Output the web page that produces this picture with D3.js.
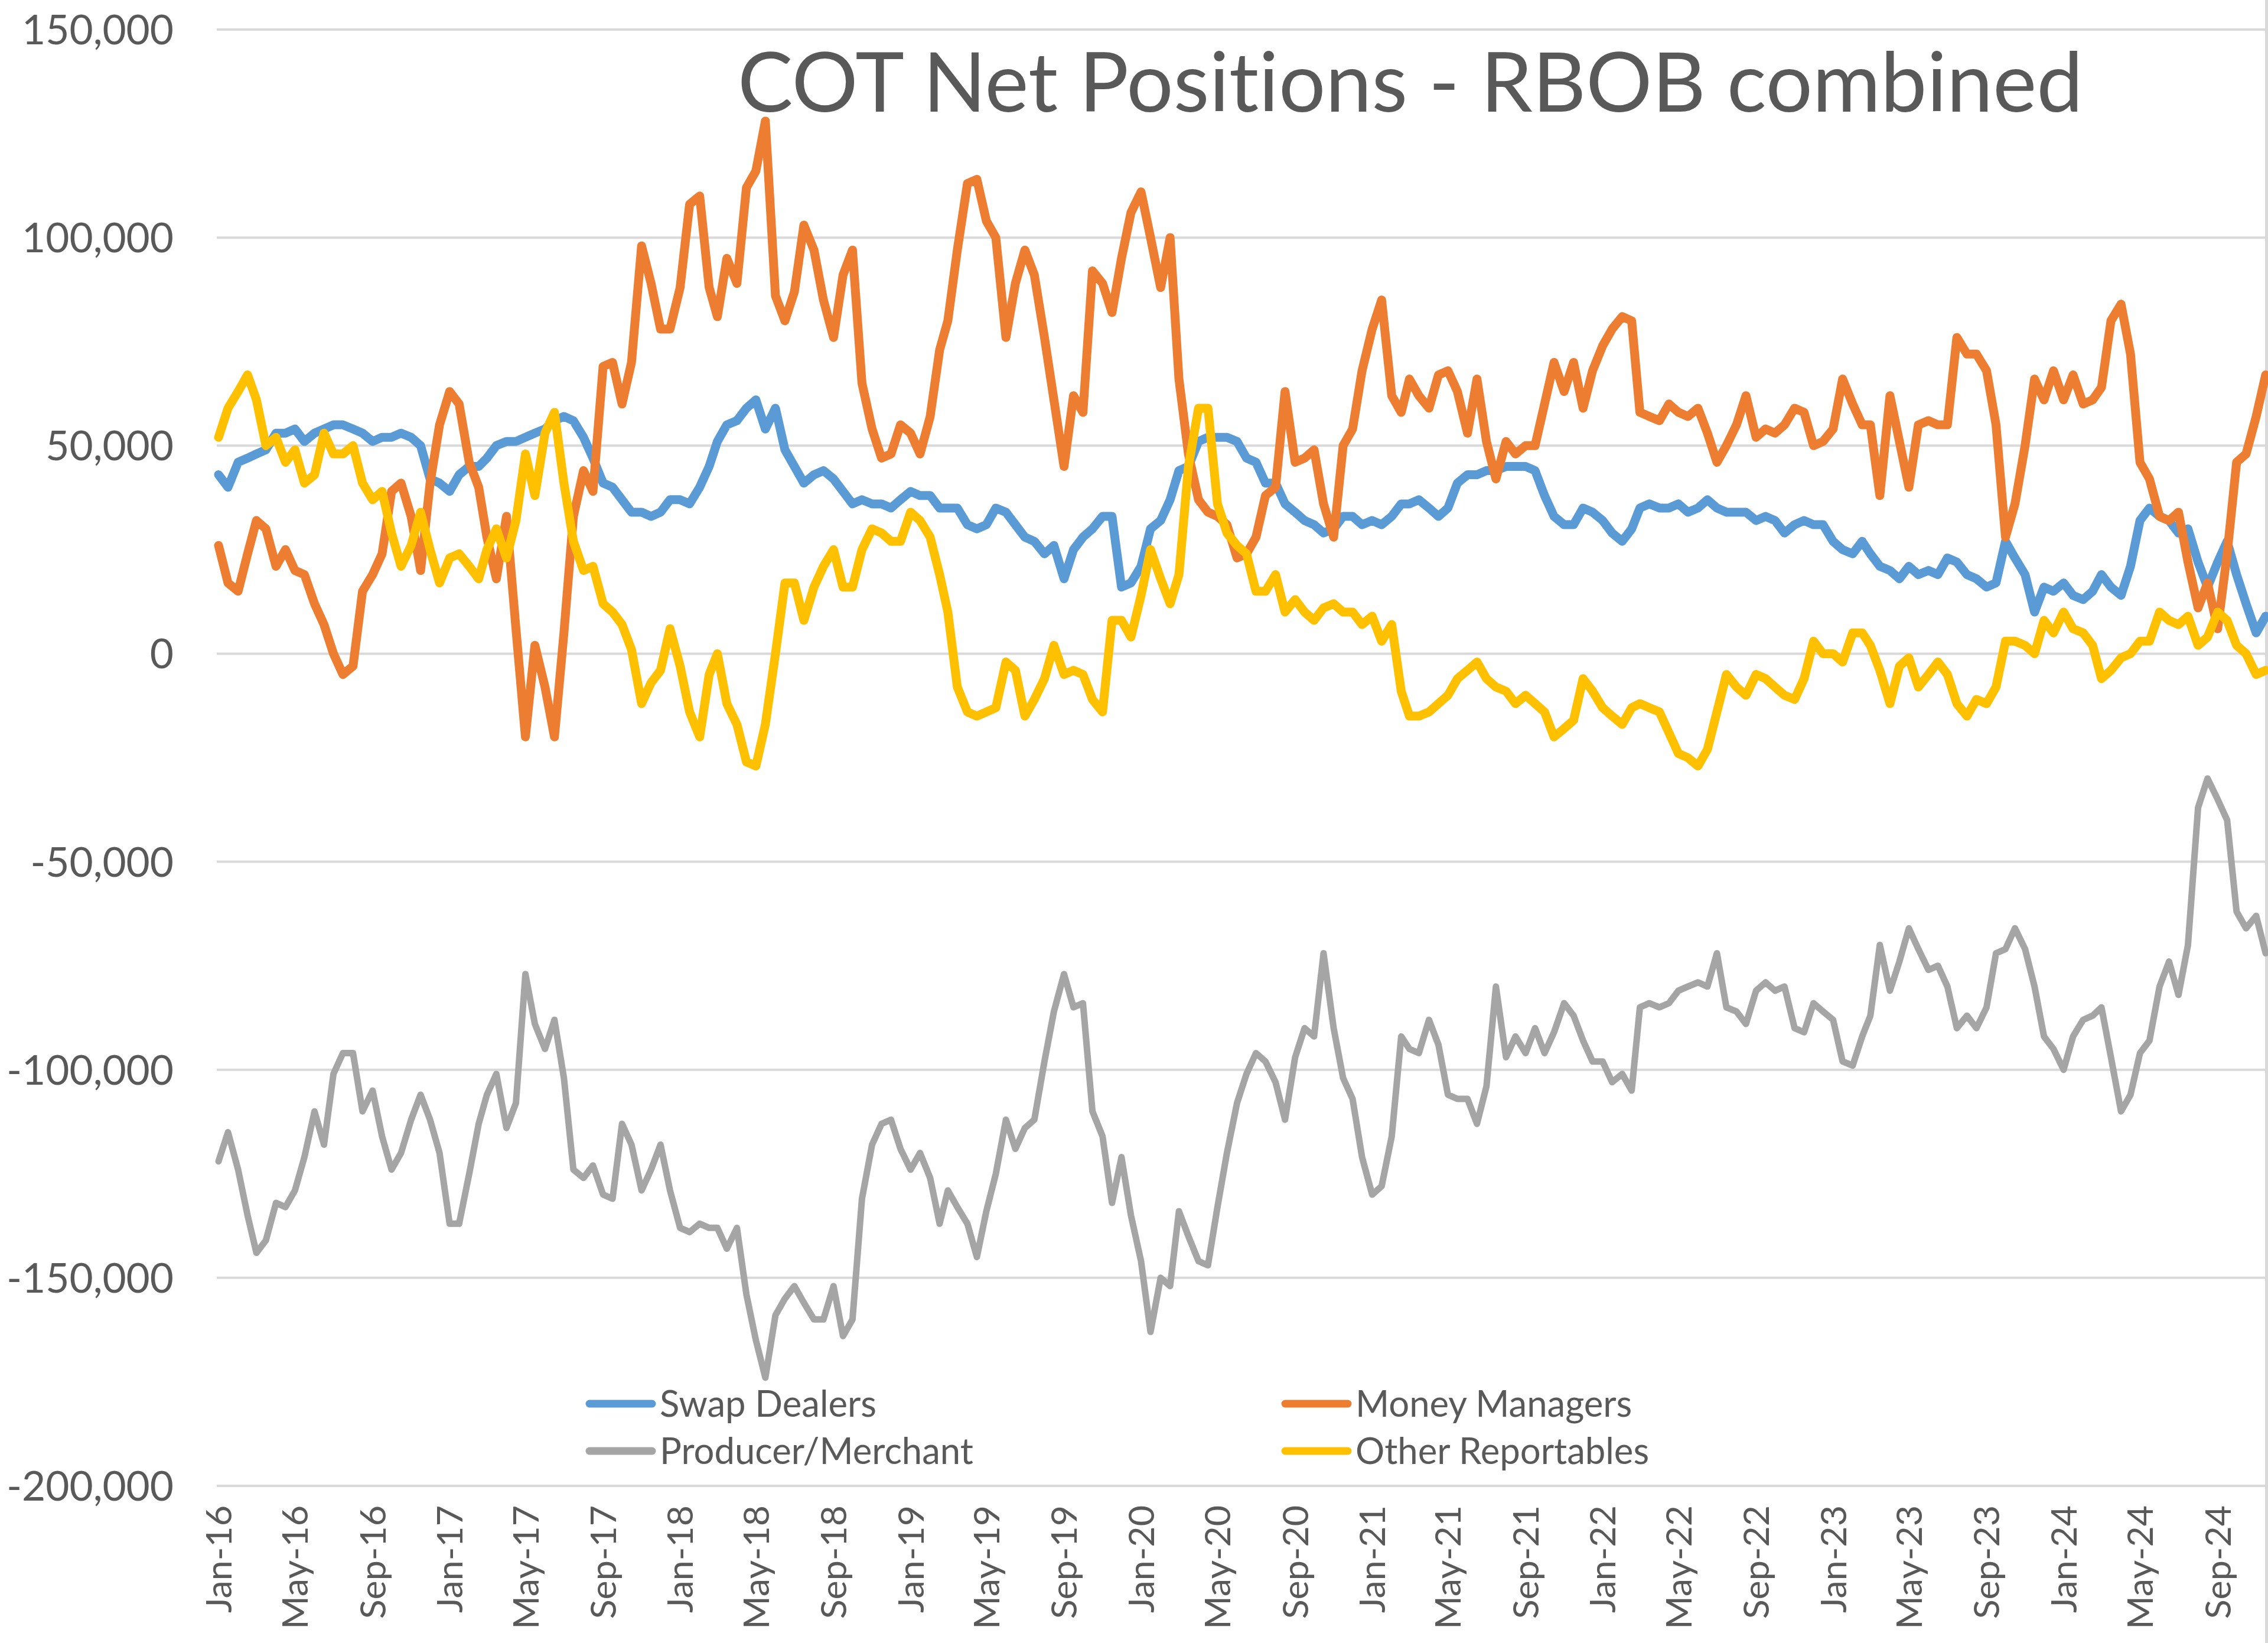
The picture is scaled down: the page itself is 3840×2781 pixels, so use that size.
<!DOCTYPE html>
<html><head><meta charset="utf-8">
<script src="https://cdn.jsdelivr.net/npm/d3@7"></script>
<style>html,body{margin:0;padding:0;background:#fff;} svg{display:block;} text{font-variant-ligatures:none;font-feature-settings:"liga" 0;}</style>
</head><body>
<svg id="chart" width="3840" height="2781"></svg>
<script>
// Values in thousands of contracts, semi-monthly observations starting Jan 2016
const swapDealers = [43,40,46,47,48,49,53,53,54,51,53,54,55,55,54,53,51,52,52,53,52,50,42,41,39,43,45,
45,47,50,51,51,52,53,54,56,57,56,52,47,41,40,37,34,34,33,34,37,37,36,40,45,51,55,
56,59,61,54,59,49,45,41,43,44,42,39,36,37,36,36,35,37,39,38,38,35,35,35,31,30,31,
35,34,31,28,27,24,26,18,25,28,30,33,33,16,17,21,30,32,37,44,45,51,52,52,52,51,
47,46,41,41,36,34,32,31,29,30,33,33,31,32,31,33,36,36,37,35,33,35,41,43,43,44,44,
45,45,45,44,38,33,31,31,35,34,32,29,27,30,35,36,35,35,36,34,35,37,35,34,34,34,32,
33,32,29,31,32,31,31,27,25,24,27,24,21,20,18,21,19,20,19,23,22,19,18,16,17,27,23,
19,10,16,15,17,14,13,15,19,16,14,21,32,35,33,32,29,30,22,16,22,27,19,12,5,9];

const moneyManagers = [26,17,15,24,32,30,21,25,20,19,12,7,0,-5,-3,15,19,24,39,41,33,20,41,55,63,60,46,
40,28,18,33,6,-20,2,-8,-20,5,33,44,39,69,70,60,70,98,89,78,78,88,108,110,88,81,95,
89,112,116,128,86,80,87,103,97,85,76,91,97,65,54,47,48,55,53,48,57,73,80,97,113,114,104,
100,76,89,97,91,76,61,45,62,58,92,89,82,95,106,111,100,88,100,66,48,37,34,33,31,23,
24,28,38,40,63,46,47,49,36,28,50,54,68,78,85,62,58,66,62,59,67,68,63,53,66,51,42,
51,48,50,50,60,70,63,70,59,68,74,78,81,80,58,57,56,60,58,57,59,53,46,50,55,62,52,
54,53,55,59,58,50,51,54,66,60,55,55,38,62,51,40,55,56,55,55,76,72,72,68,55,28,36,
50,66,61,68,61,67,60,61,64,80,84,72,46,42,33,32,34,22,11,17,6,24,46,48,57,67];

const producerMerchant = [-122,-115,-124,-135,-144,-141,-132,-133,-129,-121,-110,-118,-101,-96,-96,-110,-105,-116,-124,-120,-112,-106,-112,-120,-137,-137,-125,-113,-106,-101,-114,-108,-77,-89,-95,-88,-102,-124,-126,-123,-130,-131,-113,-118,-129,-124,-118,-129,-138,-139,-137,-138,-138,-143,
-138,-154,-165,-174,-159,-155,-152,-156,-160,-160,-152,-164,-160,-131,-118,-113,-112,-119,-124,-120,-126,-137,-129,-133,-137,-145,-134,-125,-112,-119,-114,-112,-98,-86,-77,-85,-84,-110,-116,-132,-121,-135,-146,-163,-150,-152,-134,-140,-146,-147,-133,-120,-108,-101,
-96,-98,-103,-112,-97,-90,-92,-72,-90,-102,-107,-121,-130,-128,-116,-92,-95,-96,-88,-94,-106,-107,-107,-113,-104,-80,-97,-92,-96,-90,-96,-91,-84,-87,-93,-98,-98,-103,-101,-105,-85,-84,-85,-84,-81,-80,-79,-80,-72,-85,-86,-89,-81,
-79,-81,-80,-90,-91,-84,-86,-88,-98,-99,-92,-87,-70,-81,-74,-66,-71,-76,-75,-80,-90,-87,-90,-85,-72,-71,-66,-71,-80,-92,-95,-100,-92,-88,-87,-85,-97,-110,-106,-96,-93,-80,-74,-82,-70,-37,-30,-35,-40,-62,-66,-63,-72];

const otherReportables = [52,59,63,67,61,50,52,46,49,41,43,53,48,48,50,41,37,39,29,21,26,34,25,17,23,24,21,
18,25,30,23,32,48,38,53,58,41,27,20,21,12,10,7,1,-12,-7,-4,6,-3,-14,-20,-5,0,-12,
-17,-26,-27,-17,0,17,17,8,16,21,25,16,16,25,30,29,27,27,34,32,28,19,10,-8,-14,-15,-14,
-13,-2,-4,-15,-11,-6,2,-5,-4,-5,-11,-14,8,8,4,14,25,18,12,19,45,59,59,36,29,26,
24,15,15,19,10,13,10,8,11,12,10,10,7,9,3,7,-9,-15,-15,-14,-12,-10,-6,-4,-2,-6,-8,
-9,-12,-10,-12,-14,-20,-18,-16,-6,-9,-13,-15,-17,-13,-12,-13,-14,-19,-24,-25,-27,-23,-14,-5,-8,-10,-5,
-6,-8,-10,-11,-6,3,0,0,-2,5,5,2,-4,-12,-3,-1,-8,-5,-2,-5,-12,-15,-11,-12,-8,3,3,
2,0,8,5,10,6,5,2,-6,-4,-1,0,3,3,10,8,7,9,2,4,10,8,2,0,-5,-4];

const seriesNames = ["Swap Dealers","Money Managers","Producer/Merchant","Other Reportables"];
const seriesColors = ["#5B9BD5","#ED7D31","#A5A5A5","#FFC000"];
const yTickValues = [150,100,50,0,-50,-100,-150,-200];
const yTickLabels = ["150,000","100,000","50,000","0","-50,000","-100,000","-150,000","-200,000"];
const xTickLabels = ["Jan-16","May-16","Sep-16","Jan-17","May-17","Sep-17","Jan-18","May-18","Sep-18",
  "Jan-19","May-19","Sep-19","Jan-20","May-20","Sep-20","Jan-21","May-21","Sep-21",
  "Jan-22","May-22","Sep-22","Jan-23","May-23","Sep-23","Jan-24","May-24","Sep-24"];
const chartTitle = "COT Net Positions - RBOB combined";

const n = swapDealers.length;
const dates = d3.range(n).map(i => new Date(2016, Math.floor(i / 2), i % 2 ? 16 : 1));
const allSeries = [swapDealers, moneyManagers, producerMerchant, otherReportables];

const FONT = "Lato, 'Open Sans', sans-serif";
const TEXT = "#595959";
const svg = d3.select("#chart");
svg.append("rect").attr("width", 3840).attr("height", 2781).attr("fill", "#fff");

const L = 370, R = 3836, T = 50, B = 2515;
const x = d3.scaleTime().domain([new Date(2016, 0, 1), dates[n - 1]]).range([L, R]);
const y = d3.scaleLinear().domain([-200, 150]).range([B, T]);

function fit(sel, target) {
  const w = sel.node().getComputedTextLength();
  const fs = parseFloat(sel.attr("font-size"));
  return fs * target / w;
}

// gridlines
svg.append("g").selectAll("line").data(yTickValues).join("line")
  .attr("x1", L - 3).attr("x2", R)
  .attr("y1", d => y(d)).attr("y2", d => y(d))
  .attr("stroke", "#D9D9D9").attr("stroke-width", 4);

// right border
svg.append("line").attr("x1", 3837.5).attr("x2", 3837.5).attr("y1", 0).attr("y2", 2781)
  .attr("stroke", "#D9D9D9").attr("stroke-width", 5);

// y labels
const yg = svg.append("g").attr("font-family", FONT).attr("fill", TEXT);
const probeY = yg.append("text").attr("font-size", 60).text(yTickLabels[0]);
const yfs = fit(probeY, 257); probeY.remove();
yg.selectAll("text").data(yTickValues).join("text")
  .attr("x", 294).attr("y", d => y(d)).attr("dy", "0.36em")
  .attr("text-anchor", "end").attr("font-size", yfs)
  .text((d, i) => yTickLabels[i]);

// x labels
const parseM = d3.timeParse("%b-%y");
const xg = svg.append("g").attr("font-family", FONT).attr("fill", TEXT);
const probeX = xg.append("text").attr("font-size", 60).text(xTickLabels[0]);
const xfs = fit(probeX, 182); probeX.remove();
xg.selectAll("text").data(xTickLabels).join("text")
  .attr("transform", d => `translate(${x(parseM(d))},2548) rotate(-90)`)
  .attr("text-anchor", "end").attr("dy", "0.36em").attr("font-size", xfs)
  .text(d => d);

// lines
const widths = [15, 15, 11, 15];
allSeries.forEach((vals, k) => {
  const line = d3.line().x((d, i) => x(dates[i])).y(d => y(d));
  svg.append("path").datum(vals).attr("d", line)
    .attr("fill", "none").attr("stroke", seriesColors[k]).attr("stroke-width", widths[k])
    .attr("stroke-linejoin", "round").attr("stroke-linecap", "round");
});

// title
const tt = svg.append("text").attr("font-family", FONT).attr("fill", TEXT)
  .attr("x", 1249).attr("y", 189).attr("font-size", 150).text(chartTitle);
tt.attr("font-size", fit(tt, 2278));

// legend
const lg = svg.append("g").attr("font-family", FONT).attr("fill", TEXT);
const probeL = lg.append("text").attr("font-size", 60).text(seriesNames[0]);
const lfs = fit(probeL, 367); probeL.remove();
const legendPos = [[992, 2376], [2170, 2376], [992, 2456], [2170, 2456]];
seriesNames.forEach((name, k) => {
  const [lx, ly] = legendPos[k];
  lg.append("line").attr("x1", lx + 6).attr("x2", lx + 112).attr("y1", ly).attr("y2", ly)
    .attr("stroke", seriesColors[k]).attr("stroke-width", 13).attr("stroke-linecap", "round");
  lg.append("text").attr("x", lx + 125).attr("y", ly).attr("dy", "0.36em")
    .attr("font-size", lfs).text(name);
});
</script>
</body></html>
